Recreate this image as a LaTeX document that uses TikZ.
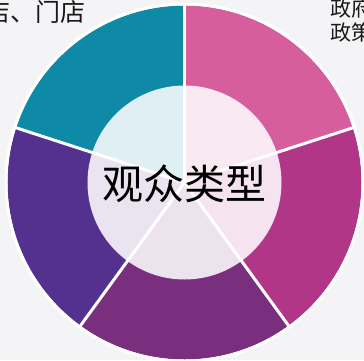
\documentclass[tikz,border=0pt]{standalone}
\usepackage{fontspec}
\newfontfamily\cjk{Noto Sans CJK SC}
\usepackage{tikz}
\usepackage{xcolor}
\usetikzlibrary{calc}

\definecolor{bgGray}{HTML}{F4F4F6}
\definecolor{segTeal}{HTML}{0F8AA6}
\definecolor{segPink}{HTML}{D75E9C}
\definecolor{segMagenta}{HTML}{B23688}
\definecolor{segPurple}{HTML}{7A2E7E}
\definecolor{segViolet}{HTML}{55318F}
\definecolor{txtDark}{HTML}{1A1A1A}

\tikzset{
  gap/.style={white, line width=3pt},
  sidelabel/.style={text=txtDark, font=\cjk\fontsize{21}{24}\selectfont, inner sep=0pt}
}

\begin{document}
\begin{tikzpicture}[x=1pt,y=1pt]
\clip (-184.5,-177.5) rectangle (179.5,182.5);
\fill[bgGray] (-184.5,-177.5) rectangle (179.5,182.5);
\useasboundingbox (-184.5,-177.5) rectangle (179.5,182.5);

\coordinate (o) at (0,0);
% five segments
\fill[segTeal](o)--(90:177) arc (90:162:177)--cycle;
\fill[segPink](o)--(18:177) arc (18:90:177)--cycle;
\fill[segMagenta](o)--(-54:177) arc (-54:18:177)--cycle;
\fill[segPurple](o)--(-126:177) arc (-126:-54:177)--cycle;
\fill[segViolet](o)--(162:177) arc (162:234:177)--cycle;

\draw[gap](o)--(90:179);
\draw[gap](o)--(18:179);
\draw[gap](o)--(-54:179);
\draw[gap](o)--(-126:179);
\draw[gap](o)--(162:179);
\draw[gap](o) circle (178.5);

\fill[white, opacity=0.87](o) circle (97);
\node (title) at (0,-1.5) [text=black, font=\cjk\fontsize{41}{48}\selectfont, inner sep=0pt]{观众类型};

\node (shops) at (-98.5,161.5) [sidelabel, anchor=base east, font=\cjk\fontsize{25}{28}\selectfont]{卖店、门店};
\node (gov1) at (145.5,166) [sidelabel, anchor=base west]{政府};
\node (gov2) at (145.5,142) [sidelabel, anchor=base west]{政策};
\end{tikzpicture}
\end{document}
